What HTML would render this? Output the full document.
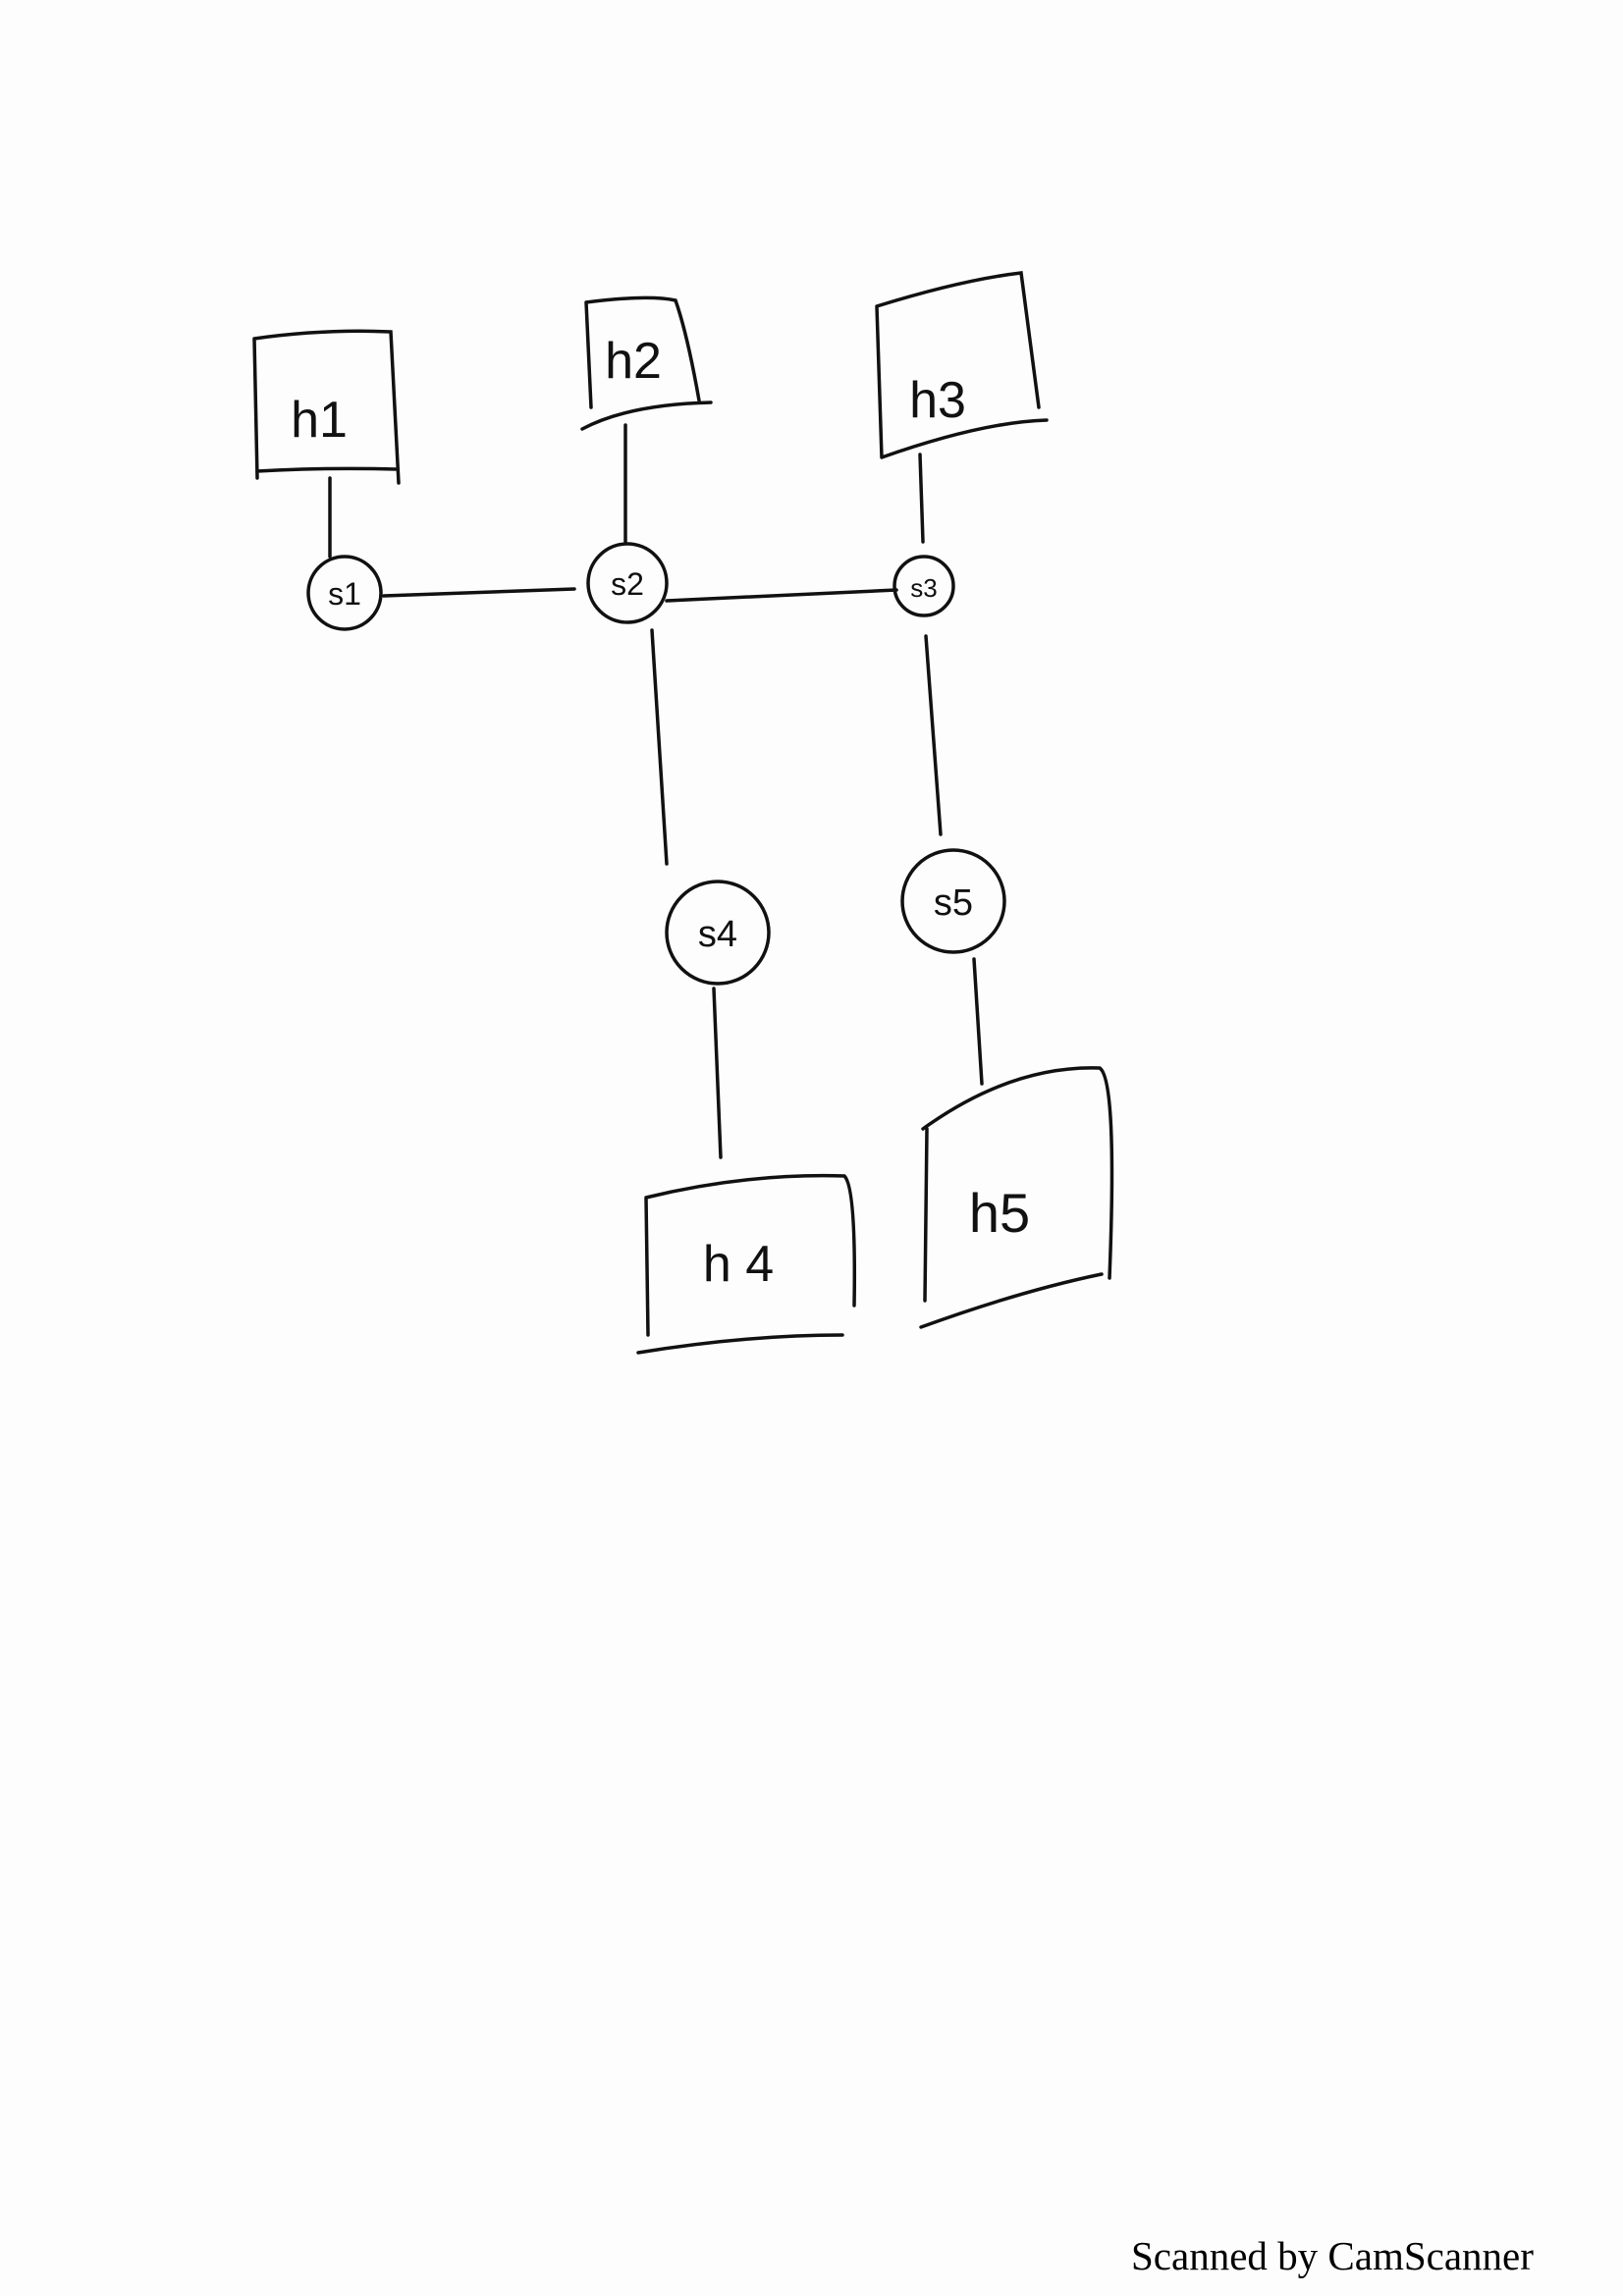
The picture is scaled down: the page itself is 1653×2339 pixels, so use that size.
<!DOCTYPE html>
<html><head><meta charset="utf-8"><style>
html,body{margin:0;padding:0;background:#fdfdfd;}
svg{display:block;}
</style></head><body>
<svg width="1653" height="2339" viewBox="0 0 1653 2339" xmlns="http://www.w3.org/2000/svg">
<rect width="1653" height="2339" fill="#fdfdfd"/>
<g stroke="#111" stroke-width="3.5" fill="none" stroke-linecap="round">
<path d="M259 345 L262 487 M259 345 Q330 335 398 338 L406 492 M262 480 Q330 476 404 478"/>
<path d="M597 308 L602 415 M597 308 Q660 300 688 306 Q700 340 712 408 M593 437 Q640 412 724 410"/>
<path d="M893 312 L898 466 M893 312 Q980 285 1040 278 L1058 415 M898 466 Q1000 430 1066 428"/>
<path d="M658 1220 L660 1360 M658 1220 Q760 1195 860 1198 Q872 1210 870 1330 M650 1378 Q760 1360 858 1360"/>
<path d="M944 1150 L942 1325 M940 1150 Q1030 1085 1120 1088 Q1138 1100 1130 1302 M938 1352 Q1040 1315 1122 1298"/>
<circle cx="351" cy="604" r="37"/>
<circle cx="639" cy="594" r="40"/>
<circle cx="941" cy="597" r="30"/>
<circle cx="731" cy="950" r="52"/>
<circle cx="971" cy="918" r="52"/>
<path d="M336 487 L336 567"/>
<path d="M391 607 L585 600"/>
<path d="M637 433 L637 552"/>
<path d="M679 612 L913 601"/>
<path d="M937 463 L940 552"/>
<path d="M664 642 L679 880"/>
<path d="M943 648 L958 850"/>
<path d="M727 1007 L734 1179"/>
<path d="M992 977 L1000 1104"/>
</g>
<g font-family="'Liberation Sans',sans-serif" fill="#111" text-anchor="middle">
<text x="325" y="445" font-size="52">h1</text>
<text x="645" y="385" font-size="52">h2</text>
<text x="955" y="425" font-size="52">h3</text>
<text x="752" y="1305" font-size="52">h 4</text>
<text x="1018" y="1255" font-size="56">h5</text>
<text x="351" y="616" font-size="32">s1</text>
<text x="639" y="606" font-size="32">s2</text>
<text x="941" y="608" font-size="26">s3</text>
<text x="731" y="964" font-size="38">s4</text>
<text x="971" y="932" font-size="38">s5</text>
</g>
<text x="1152" y="2312" font-family="'Liberation Serif',serif" font-size="41" fill="#000">Scanned by CamScanner</text>
</svg>
</body></html>
